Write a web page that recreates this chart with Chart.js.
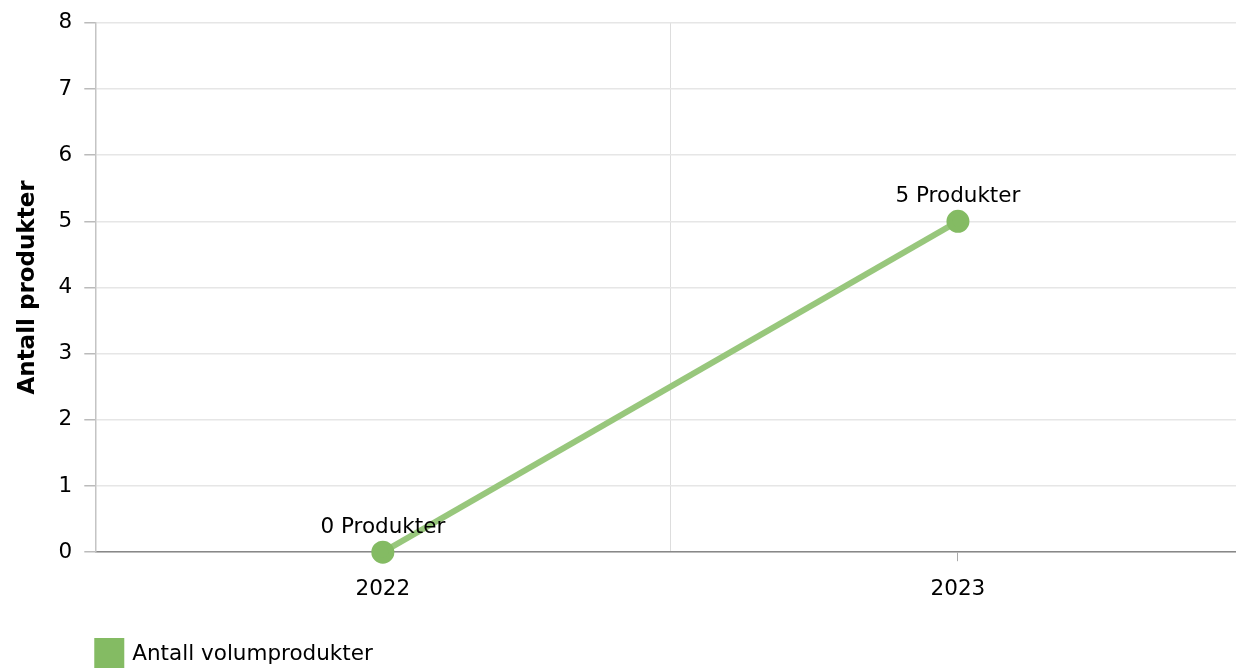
<!DOCTYPE html>
<html>
<head>
<meta charset="utf-8">
<script src="https://cdn.jsdelivr.net/npm/chart.js@4/dist/chart.umd.min.js"></script>
<style>
html,body{margin:0;padding:0;background:#fff;overflow:hidden;}
#wrap{width:1236px;height:668px;position:relative;overflow:hidden;}
</style>
</head>
<body>
<div id="wrap"><canvas id="c" width="1260" height="668"></canvas></div>
<script>
const categories = ["2022", "2023"];
const seriesName = "Antall volumprodukter";
const seriesValues = [0, 5];
const yTicks = [0, 1, 2, 3, 4, 5, 6, 7, 8];
const yTitle = "Antall produkter";
const labelSuffix = " Produkter";

const FONT = "'DejaVu Sans', Verdana, sans-serif";
const FS = 21.5;
const SERIES_COLOR = '#84bb63';

const dataLabels = {
  id: 'dataLabels',
  afterDatasetsDraw(chart) {
    const ctx = chart.ctx;
    const meta = chart.getDatasetMeta(0);
    ctx.save();
    ctx.font = FS + "px " + FONT;
    ctx.fillStyle = "#000";
    ctx.textAlign = "center";
    ctx.textBaseline = "bottom";
    meta.data.forEach((pt, i) => {
      ctx.fillText(seriesValues[i] + labelSuffix, pt.x, pt.y - 14);
    });
    ctx.restore();
  }
};

const bottomLegend = {
  id: 'bottomLegend',
  afterDraw(chart) {
    const ctx = chart.ctx;
    const x0 = chart.chartArea.left - 1;
    const y0 = 638;
    ctx.save();
    ctx.fillStyle = SERIES_COLOR;
    ctx.fillRect(x0, y0, 30, 30);
    ctx.font = FS + "px " + FONT;
    ctx.fillStyle = "#000";
    ctx.textAlign = "left";
    ctx.textBaseline = "middle";
    ctx.fillText(seriesName, x0 + 38, y0 + 16);
    ctx.restore();
  }
};

new Chart(document.getElementById('c'), {
  type: 'line',
  data: {
    labels: categories,
    datasets: [{
      label: seriesName,
      data: seriesValues,
      borderColor: '#98c77c',
      backgroundColor: SERIES_COLOR,
      pointBackgroundColor: SERIES_COLOR,
      pointBorderColor: SERIES_COLOR,
      borderWidth: 6,
      pointRadius: 8.5,
      pointHoverRadius: 8.5,
      tension: 0,
      clip: false
    }]
  },
  options: {
    responsive: false,
    animation: false,
    devicePixelRatio: 1,
    layout: { padding: { top: 8, right: 0, left: 14, bottom: 51 } },
    plugins: {
      tooltip: { enabled: false },
      legend: { display: false }
    },
    scales: {
      x: {
        type: 'category',
        offset: true,
        grid: { offset: false, drawOnChartArea: false, drawTicks: true, tickLength: 9, color: '#aaa' },
        border: { display: true, color: '#888', width: 1.5 },
        ticks: { font: { family: FONT, size: FS }, color: '#000', padding: 15 }
      },
      x2: {
        type: 'category',
        labels: categories,
        offset: true,
        position: 'bottom',
        display: true,
        grid: { offset: true, drawOnChartArea: true, drawTicks: false, color: '#dddddd' },
        border: { display: false },
        ticks: { display: false }
      },
      y: {
        min: 0,
        max: 8,
        afterBuildTicks(axis) { axis.ticks = yTicks.map(v => ({ value: v })); },
        grid: { color: '#e6e6e6', tickLength: 11, tickColor: '#bbb', lineWidth: 1.5 },
        border: { display: true, color: '#c4c4c4', width: 1.5 },
        ticks: { font: { family: FONT, size: FS, lineHeight: 1.0 }, color: '#000', padding: 12 },
        title: { display: true, text: yTitle, font: { family: FONT, size: 23, weight: 'bold' }, color: '#000', padding: { top: 0, bottom: 5 } }
      }
    }
  },
  plugins: [dataLabels, bottomLegend]
});
</script>
</body>
</html>
